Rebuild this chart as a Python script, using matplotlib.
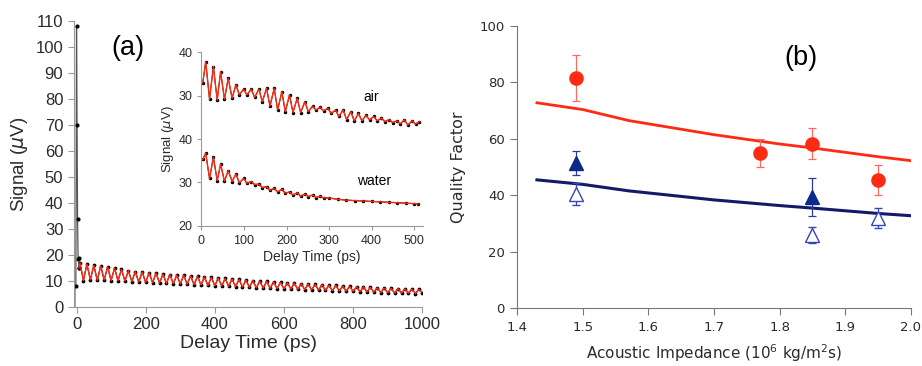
#!/usr/bin/env python3
"""Two-panel figure: (a) pump-probe delay trace with inset, (b) quality factor vs impedance."""

import matplotlib

matplotlib.use("Agg")
import matplotlib.pyplot as plt

# ---- panel (a): main trace ------------------------------------------------
# initial spike (black data only)
spike_t = [-2, 0, 1.5, 3, 4.5, 6, 7]
spike_v = [8, 108, 70, 34, 18.5, 19, 15]
pre_t = [-7, -1]
pre_v = [8, 8]

# oscillating part, peaks and troughs
main_t = [7, 10, 20, 30, 40, 50, 60, 70, 80, 90, 100, 110, 120, 130, 140, 150, 160,
          170, 180, 190, 200, 210, 220, 230, 240, 250, 260, 270, 280, 290, 300,
          310, 320, 330, 340, 350, 360, 370, 380, 390, 400, 410, 420, 430, 440,
          450, 460, 470, 480, 490, 500, 510, 520, 530, 540, 550, 560, 570, 580,
          590, 600, 610, 620, 630, 640, 650, 660, 670, 680, 690, 700, 710, 720,
          730, 740, 750, 760, 770, 780, 790, 800, 810, 820, 830, 840, 850, 860,
          870, 880, 890, 900, 910, 920, 930, 940, 950, 960, 970, 980, 990, 1000]
main_v = [15.0, 17.0, 10.2, 16.5, 10.5, 16.0, 10.3, 15.8, 10.4, 15.5, 10.2,
          15.0, 10.1, 14.5, 10.0, 14.0, 9.8, 13.6, 9.6, 13.5, 9.5,
          13.2, 9.4, 13.0, 9.3, 12.7, 9.1, 12.5, 9.0, 12.3, 8.9,
          12.2, 8.8, 12.0, 8.6, 11.8, 8.5, 11.6, 8.3, 11.4, 8.2,
          11.2, 8.1, 11.0, 8.0, 10.8, 7.8, 10.6, 7.7, 10.4, 7.6,
          10.2, 7.4, 10.0, 7.3, 9.9, 7.2, 9.7, 7.1, 9.5, 7.0,
          9.3, 6.9, 9.2, 6.8, 9.0, 6.7, 8.9, 6.6, 8.7, 6.5,
          8.6, 6.4, 8.4, 6.3, 8.3, 6.2, 8.1, 6.1, 8.0, 6.0,
          7.8, 5.9, 7.7, 5.8, 7.6, 5.7, 7.4, 5.6, 7.3, 5.5,
          7.2, 5.4, 7.1, 5.4, 7.0, 5.3, 6.9, 5.2, 6.8, 5.6]

# ---- panel (a): inset ------------------------------------------------------
air_t = [3, 10, 19, 28, 37, 45, 54, 63, 72, 81, 89, 99, 107, 117, 125, 135, 143,
         153, 161, 171, 179, 189, 197, 207, 215, 225, 233, 243, 251, 261, 269,
         279, 287, 297, 305, 315, 323, 333, 341, 351, 359, 369, 377, 387, 395,
         405, 413, 423, 431, 441, 449, 459, 467, 477, 485, 495, 503, 512]
air_v = [33.0, 37.8, 29.2, 36.7, 29.0, 35.5, 29.2, 34.0, 29.4, 32.5, 30.2, 31.5,
         30.2, 31.5, 29.6, 31.5, 28.6, 31.7, 27.6, 31.7, 26.7, 30.9, 26.3, 30.2,
         26.1, 29.4, 26.1, 28.6, 26.3, 27.6, 26.7, 27.3, 26.5, 27.1, 25.9, 26.7,
         25.2, 26.7, 24.5, 26.3, 24.2, 25.9, 24.2, 25.5, 24.4, 25.2, 24.2, 24.8,
         24.0, 24.5, 23.8, 24.2, 23.5, 24.4, 23.2, 24.2, 23.4, 24.0]
air_offset = 20  # air trace is stacked 20 units above the water trace

water_t = [3, 10, 19, 28, 37, 45, 54, 63, 72, 81, 89, 99, 107, 117, 125, 135,
           143, 153, 161, 171, 179, 189, 197, 207, 215, 225, 233, 243, 251, 261,
           269, 279, 287, 300, 320, 340, 360, 380, 400, 420, 440, 460, 480, 500, 510]
water_v = [35.3, 36.7, 30.9, 35.8, 30.4, 34.2, 30.3, 32.7, 30.2, 31.9, 29.9, 30.9,
           29.8, 30.2, 29.5, 29.6, 28.8, 29.0, 28.2, 28.6, 27.8, 28.4, 27.5, 27.8,
           27.1, 27.6, 26.8, 27.3, 26.7, 27.1, 26.5, 26.8, 26.4, 26.4, 26.1, 25.9,
           25.8, 25.7, 25.6, 25.5, 25.4, 25.3, 25.2, 25.1, 25.0]
inset_ticks = [20, 30, 40, 50, 60]
inset_labels = ["20", "30", "40", "30", "40"]

# ---- panel (b) -------------------------------------------------------------
circ_x = [1.49, 1.77, 1.85, 1.95]
circ_y = [81.6, 55.0, 58.3, 45.3]
circ_err = [8.2, 5.0, 5.5, 5.3]

tri_x = [1.49, 1.85]
tri_y = [51.5, 39.5]
tri_err = [4.3, 6.7]

open_x = [1.49, 1.85, 1.95]
open_y = [40.5, 26.0, 32.0]
open_err = [4.0, 2.7, 3.6]

fit_x = [1.43, 1.5, 1.57, 1.7, 1.8, 1.85, 1.95, 2.0]
fit_red = [72.8, 70.4, 66.5, 61.5, 58.2, 56.8, 53.7, 52.3]
fit_blue = [45.5, 43.9, 41.6, 38.4, 36.4, 35.5, 33.6, 32.8]

RED = "#ff2a12"
NAVY = "#0d2a8a"
LINE_NAVY = "#141a6a"
ARIAL = "Liberation Sans"
GREY = "#9a9a9a"
TXT = "#2b2b2b"

fig = plt.figure(figsize=(9.22, 3.66), dpi=100)

# (a) main
ax = fig.add_axes([0.080, 0.161, 0.378, 0.782])
ax.fill_between(pre_t, 0, pre_v, color="#a0a0a0", lw=0)
ax.plot(spike_t, spike_v, color="#555555", lw=0.9, marker="o", ms=2.0,
        mfc="black", mec="black")
ax.plot(main_t, main_v, color="black", lw=0.8, marker="o", ms=1.7, ls="-")
ax.plot(main_t, main_v, color=RED, lw=1.0)
ax.set_xlim(-8, 1000)
ax.set_ylim(0, 110)
ax.set_xticks(range(0, 1001, 200))
ax.set_yticks(range(0, 111, 10))
for s in ("top", "right"):
    ax.spines[s].set_visible(False)
for s in ("left", "bottom"):
    ax.spines[s].set_color(GREY)
ax.tick_params(colors=GREY, labelcolor=TXT, labelsize=12, length=4, direction="out")
for lab in ax.get_xticklabels() + ax.get_yticklabels():
    lab.set_fontfamily(ARIAL)
ax.set_xlabel("Delay Time (ps)", fontsize=14, family=ARIAL, color=TXT, labelpad=2)
ax.set_ylabel(r"Signal ($\mu$V)", fontsize=13.5, family=ARIAL, color=TXT, labelpad=4)
ax.text(0.155, 0.905, "(a)", transform=ax.transAxes, fontsize=19.5, family=ARIAL,
        color="black", ha="center", va="center")

# (a) inset
ins = fig.add_axes([0.2185, 0.3833, 0.240, 0.4737])
ins.plot(air_t, [v + air_offset for v in air_v], color="black", lw=0.7,
         marker="o", ms=1.5)
ins.plot(air_t, [v + air_offset for v in air_v], color=RED, lw=1.0)
ins.plot(water_t, water_v, color="black", lw=0.7, marker="o", ms=1.5)
ins.plot(water_t, water_v, color=RED, lw=1.0)
ins.set_xlim(0, 520)
ins.set_ylim(20, 60)
ins.set_xticks(range(0, 501, 100))
ins.set_yticks(inset_ticks)
ins.set_yticklabels(inset_labels)
for s in ("top", "right"):
    ins.spines[s].set_visible(False)
for s in ("left", "bottom"):
    ins.spines[s].set_color(GREY)
ins.tick_params(colors=GREY, labelcolor=TXT, labelsize=9, length=3, direction="out")
for lab in ins.get_xticklabels() + ins.get_yticklabels():
    lab.set_fontfamily(ARIAL)
ins.set_xlabel("Delay Time (ps)", fontsize=10, family=ARIAL, color=TXT, labelpad=2)
ins.set_ylabel(r"Signal ($\mu$V)", fontsize=9.5, family=ARIAL, color=TXT, labelpad=2)
ins.text(400, 49.8, "air", fontsize=10, family=ARIAL, color="black",
         ha="center", va="center")
ins.text(405, 30.3, "water", fontsize=10, family=ARIAL, color="black",
         ha="center", va="center")

# (b)
bx = fig.add_axes([0.561, 0.1576, 0.4268, 0.7714])
bx.plot(fit_x, fit_red, color=RED, lw=2.0, zorder=2)
bx.plot(fit_x, fit_blue, color=LINE_NAVY, lw=2.2, zorder=2)
bx.errorbar(circ_x, circ_y, yerr=circ_err, fmt="o", ms=9.5, color=RED,
            ecolor="#ff6a60", elinewidth=0.9, capsize=3, capthick=0.9, zorder=3)
bx.errorbar(tri_x, tri_y, yerr=tri_err, fmt="^", ms=10, color=NAVY,
            ecolor="#2a3aa0", elinewidth=0.9, capsize=3, capthick=0.9, zorder=3)
bx.errorbar(open_x, open_y, yerr=open_err, fmt="^", ms=10, mfc="white",
            mec="#3545b5", mew=1.0, ecolor="#3545b5", elinewidth=0.9,
            capsize=3, capthick=0.9, zorder=3)
bx.set_xlim(1.4, 2.0)
bx.set_ylim(0, 100)
bx.set_xticks([1.4, 1.5, 1.6, 1.7, 1.8, 1.9, 2.0])
bx.set_xticklabels(["1.4", "1.5", "1.6", "1.7", "1.8", "1.9", "2.0"])
bx.set_yticks(range(0, 101, 20))
for s in ("top", "right"):
    bx.spines[s].set_visible(False)
for s in ("left", "bottom"):
    bx.spines[s].set_color("#777777")
bx.tick_params(colors="#777777", labelcolor=TXT, labelsize=9.5, length=5,
               direction="out", pad=4)
bx.set_xlabel(r"Acoustic Impedance (10$^{6}$ kg/m$^{2}$s)", fontsize=11,
              color=TXT, labelpad=6)
bx.set_ylabel("Quality Factor", fontsize=11.5, color=TXT, labelpad=10)
bx.text(0.72, 0.885, "(b)", transform=bx.transAxes, fontsize=19.5, family=ARIAL,
        color="black", ha="center", va="center")

fig.savefig("out.png", dpi=100)
